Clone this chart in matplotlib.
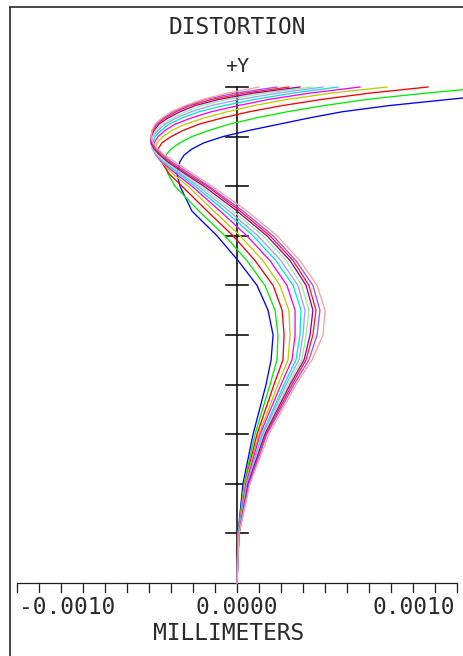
import matplotlib
matplotlib.use("Agg")
import matplotlib.pyplot as plt
from matplotlib.lines import Line2D

# Relative field heights (0 = on axis, 1 = full field)
field = [0.0, 0.1, 0.2, 0.3, 0.4, 0.45, 0.5, 0.55, 0.6, 0.65, 0.7, 0.75,
         0.8, 0.825, 0.85, 0.8625, 0.875, 0.8875, 0.9, 0.9125, 0.925,
         0.9375, 0.95, 0.9625, 0.975, 0.9875, 1.0]

# Distortion per wavelength, in nanometres (converted to mm when drawn)
dist_w01 = [0, 5, 27, 73, 132, 155, 164, 141, 91, 5, -91, -205, -259, -273, -259,
            -241, -205, -150, -64, 55, 191, 327, 477, 691, 964, 1250, 1591]
dist_w02 = [0, 5, 32, 82, 150, 182, 186, 173, 127, 45, -55, -173, -282, -314, -327,
            -323, -300, -259, -205, -127, -36, 86, 227, 395, 591, 855, 1159]
dist_w03 = [0, 5, 36, 91, 168, 209, 214, 205, 164, 82, -18, -136, -250, -309, -345,
            -359, -359, -341, -300, -245, -173, -68, 55, 205, 386, 600, 868]
dist_w04 = [0, 5, 36, 100, 186, 232, 241, 236, 195, 118, 14, -105, -223, -291, -345,
            -364, -373, -364, -336, -295, -236, -150, -45, 77, 227, 427, 682]
dist_w05 = [0, 5, 41, 105, 200, 250, 264, 264, 227, 150, 45, -77, -205, -277, -345,
            -368, -382, -377, -359, -327, -282, -209, -118, 5, 145, 327, 559]
dist_w06 = [0, 5, 45, 114, 214, 268, 286, 291, 255, 177, 73, -55, -191, -264, -341,
            -364, -382, -382, -373, -345, -309, -250, -173, -59, 82, 250, 459]
dist_w07 = [0, 9, 45, 118, 223, 282, 300, 309, 277, 200, 95, -36, -177, -255, -336,
            -364, -386, -391, -382, -359, -327, -277, -209, -118, 14, 182, 391]
dist_w08 = [0, 9, 50, 123, 232, 295, 314, 327, 295, 223, 118, -18, -164, -245, -327,
            -359, -382, -391, -386, -368, -341, -295, -236, -159, -45, 123, 341]
dist_w09 = [0, 9, 50, 127, 241, 305, 332, 345, 314, 241, 136, 0, -150, -236, -318,
            -350, -377, -391, -391, -377, -355, -314, -259, -191, -82, 73, 286]
dist_w10 = [0, 9, 55, 132, 250, 314, 345, 359, 327, 255, 150, 14, -136, -227, -309,
            -345, -373, -386, -391, -382, -364, -327, -277, -214, -114, 32, 236]
dist_w11 = [0, 9, 55, 136, 259, 327, 364, 377, 345, 268, 164, 27, -127, -214, -300,
            -336, -368, -386, -391, -386, -368, -336, -291, -227, -145, -9, 182]
dist_w12 = [0, 9, 59, 145, 268, 341, 391, 400, 364, 286, 182, 45, -114, -200, -286,
            -327, -359, -382, -391, -386, -373, -341, -300, -236, -155, -45, 100]

series = [dist_w01, dist_w02, dist_w03, dist_w04, dist_w05, dist_w06,
          dist_w07, dist_w08, dist_w09, dist_w10, dist_w11, dist_w12]
colors = ["#0000ff", "#00ee00", "#ff0000", "#c8c800", "#ff00ff", "#00e6e6",
          "#a0a0ff", "#96f096", "#a000a0", "#ff2020", "#a050ff", "#ffa0a0"]

x_tick_labels = ["-0.0010", "0.0000", "0.0010"]
x_half = 0.0010          # mm, half width of the horizontal scale
x_minor = 0.0001         # mm between horizontal ticks
title = "DISTORTION"
x_label = "MILLIMETERS"
y_label = "+Y"

# ---- figure geometry (pixels) ----
W, H = 463, 656
x0_px, y0_px = 237.0, 583.0      # origin of the plot
half_px = 220.0                  # pixels for x_half
full_px = 496.0                  # pixels for field = 1
mm_per_px = x_half / half_px

fig = plt.figure(figsize=(W / 100, H / 100), dpi=100)
ax = fig.add_axes([0, 0, 1, 1])
ax.set_xlim(-x0_px * mm_per_px, (W - x0_px) * mm_per_px)
ax.set_ylim((y0_px - H) / full_px, y0_px / full_px)
ax.axis("off")

def px_y(py):
    return (y0_px - py) / full_px

axis_col = "#1e1e1e"
font = {"family": ["DejaVu Sans Mono"], "color": "#2a2a2a"}

# outer frame (left and top edges)
fig.add_artist(Line2D([9.5 / W, 9.5 / W], [0, 1 - 7 / H], color="#3a3a3a", lw=1.3))
fig.add_artist(Line2D([9.5 / W, 1], [1 - 7 / H, 1 - 7 / H], color="#3a3a3a", lw=1.3))

# horizontal scale with ticks hanging below
ax.plot([-x_half, x_half], [0, 0], color=axis_col, lw=0.9, solid_capstyle="butt")
n_minor = int(round(x_half / x_minor))
tick_len = 9 / full_px
for k in range(-n_minor, n_minor + 1):
    ax.plot([k * x_minor] * 2, [0, -tick_len], color=axis_col, lw=0.9)

# vertical field axis with centred ticks
ax.plot([0, 0], [0, 1], color="#000000", lw=1.1, zorder=2)
tick_half = 11 * mm_per_px
for k in range(1, 11):
    ax.plot([-tick_half, tick_half], [k / 10] * 2, color="#111111", lw=1.2, zorder=2)

# distortion curves
for vals, c in zip(series, colors):
    ax.plot([v * 1e-6 for v in vals], field, color=c, lw=0.95, zorder=3,
            solid_joinstyle="round")

# texts
ax.text(0, px_y(27), title, ha="center", va="center", fontsize=16.5, **font)
ax.text(0, px_y(67), y_label, ha="center", va="center", fontsize=14.5, **font)
ty = px_y(607)
ax.text(-x_half + 2 * mm_per_px, ty, x_tick_labels[0], ha="left", va="center", fontsize=16.5, **font)
ax.text(0, ty, x_tick_labels[1], ha="center", va="center", fontsize=16.5, **font)
ax.text(x_half - 2 * mm_per_px, ty, x_tick_labels[2], ha="right", va="center", fontsize=16.5, **font)
ax.text(-8 * mm_per_px, px_y(633), x_label, ha="center", va="center", fontsize=16.5, **font)

fig.savefig("out.png", dpi=100)
